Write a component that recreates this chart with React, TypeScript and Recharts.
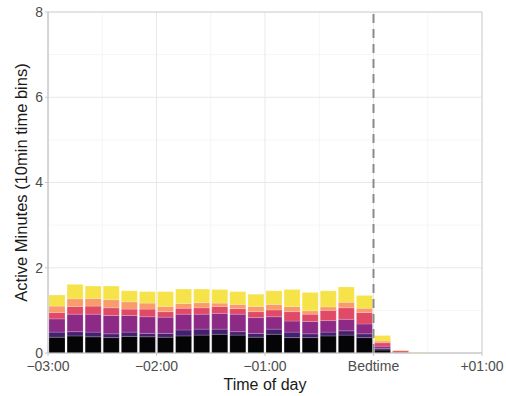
import React from 'react';
import {
  Bar,
  BarChart,
  CartesianGrid,
  ReferenceArea,
  ReferenceLine,
  XAxis,
  YAxis
} from 'recharts';

// start of each 10-minute bin, minutes relative to bedtime
const binStarts = [
  -180, -170, -160, -150, -140, -130, -120, -110, -100, -90, -80, -70, -60, -50, -40,
  -30, -20, -10, 0, 10, 20
];

// stacked layers, bottom to top
const layerBlack = [
  0.37, 0.4, 0.38, 0.36, 0.39, 0.38, 0.37, 0.4, 0.42, 0.44, 0.42, 0.37, 0.44, 0.36, 0.36,
  0.4, 0.42, 0.36, 0.07, 0, 0
];
const layerIndigo = [
  0.12, 0.1, 0.11, 0.09, 0.1, 0.08, 0.09, 0.14, 0.14, 0.12, 0.08, 0.09, 0.12, 0.13, 0.09,
  0.09, 0.1, 0.09, 0.04, 0, 0
];
const layerPurple = [
  0.31, 0.41, 0.42, 0.43, 0.39, 0.39, 0.38, 0.37, 0.35, 0.37, 0.41, 0.37, 0.29, 0.26, 0.29,
  0.27, 0.27, 0.23, 0.05, 0.01, 0
];
const layerRed = [
  0.15, 0.18, 0.19, 0.18, 0.15, 0.18, 0.13, 0.14, 0.15, 0.16, 0.13, 0.14, 0.16, 0.22, 0.17,
  0.24, 0.27, 0.27, 0.08, 0.04, 0
];
const layerOrange = [
  0.15, 0.18, 0.18, 0.19, 0.17, 0.14, 0.12, 0.11, 0.12, 0.08, 0.1, 0.12, 0.13, 0.12, 0.08,
  0.08, 0.13, 0.1, 0.04, 0.01, 0.01
];
const layerYellow = [
  0.26, 0.34, 0.29, 0.32, 0.26, 0.27, 0.35, 0.34, 0.32, 0.32, 0.3, 0.29, 0.32, 0.4, 0.43,
  0.38, 0.36, 0.3, 0.13, 0.01, 0.01
];

const xTicks = [-180, -120, -60, 0, 60];
const xTickLabels = ['\u221203:00', '\u221202:00', '\u221201:00', 'Bedtime', '+01:00'];
const yTicks = [0, 2, 4, 6, 8];

const layers = [
  { key: 'black', values: layerBlack, color: '#050508' },
  { key: 'indigo', values: layerIndigo, color: '#45206e' },
  { key: 'purple', values: layerPurple, color: '#8c2a86' },
  { key: 'red', values: layerRed, color: '#e04a67' },
  { key: 'orange', values: layerOrange, color: '#f99b6b' },
  { key: 'yellow', values: layerYellow, color: '#f6e34a' }
];

const data = binStarts.map((start, i) => {
  const row: Record<string, number> = { mid: start + 5 };
  layers.forEach((l) => {
    row[l.key] = l.values[i];
  });
  return row;
});

const font = '"Liberation Sans", Arial, sans-serif';

export default function App() {
  return (
    <div style={{ position: 'absolute', left: 0, top: 0, background: '#fff' }}>
      <BarChart
        width={506}
        height={396}
        data={data}
        margin={{ top: 12, right: 24, bottom: 0, left: 0 }}
        barCategoryGap={1}
        style={{ fontFamily: font }}
      >
        <CartesianGrid
          stroke="#f5f5f5"
          horizontalValues={[1, 3, 5, 7]}
          verticalValues={[-150, -90, -30, 30]}
        />
        <CartesianGrid
          stroke="#e8e8e8"
          horizontalValues={[2, 4, 6]}
          verticalValues={[-120, -60, 0]}
        />
        <XAxis
          dataKey="mid"
          type="number"
          domain={[-180, 60]}
          ticks={xTicks}
          tickFormatter={(v) => xTickLabels[xTicks.indexOf(Number(v))] ?? ''}
          height={43}
          axisLine={{ stroke: '#c8c8c8' }}
          tickLine={{ stroke: '#c8c8c8' }}
          tickSize={3}
          tick={{ fontSize: 14, fill: '#4d4d4d', fontFamily: font, dy: 3 }}
          interval={0}
          label={{
            value: 'Time of day',
            position: 'insideBottom',
            offset: 6,
            fontSize: 16,
            fill: '#1a1a1a',
            fontFamily: font
          }}
        />
        <YAxis
          type="number"
          domain={[0, 8]}
          ticks={yTicks}
          width={48}
          axisLine={{ stroke: '#c8c8c8' }}
          tickLine={{ stroke: '#c8c8c8' }}
          tickSize={3}
          tick={{ fontSize: 14, fill: '#4d4d4d', fontFamily: font }}
          label={{
            content: (p: any) => {
              const vb = p.viewBox || { x: 0, y: 12, width: 48, height: 341 };
              const cx = vb.x + 21;
              const cy = vb.y + vb.height / 2;
              return (
                <text
                  x={cx}
                  y={cy}
                  transform={`rotate(-90 ${cx} ${cy})`}
                  textAnchor="middle"
                  dominantBaseline="central"
                  fontSize={16.5}
                  fill="#1a1a1a"
                  fontFamily={font}
                >
                  Active Minutes (10min time bins)
                </text>
              );
            }
          }}
        />
        {layers.map((l) => (
          <Bar
            key={l.key}
            dataKey={l.key}
            stackId="a"
            fill={l.color}
            stroke="#ffffff"
            strokeOpacity={0.35}
            strokeWidth={0.5}
            isAnimationActive={false}
          />
        ))}
        <ReferenceArea
          x1={-180}
          x2={60}
          y1={0}
          y2={8}
          fill="none"
          stroke="#c8c8c8"
          strokeWidth={1}
          ifOverflow="visible"
        />
        <ReferenceLine
          x={0}
          stroke="#8a8a8a"
          strokeWidth={2}
          strokeDasharray="9 6"
        />
      </BarChart>
    </div>
  );
}
